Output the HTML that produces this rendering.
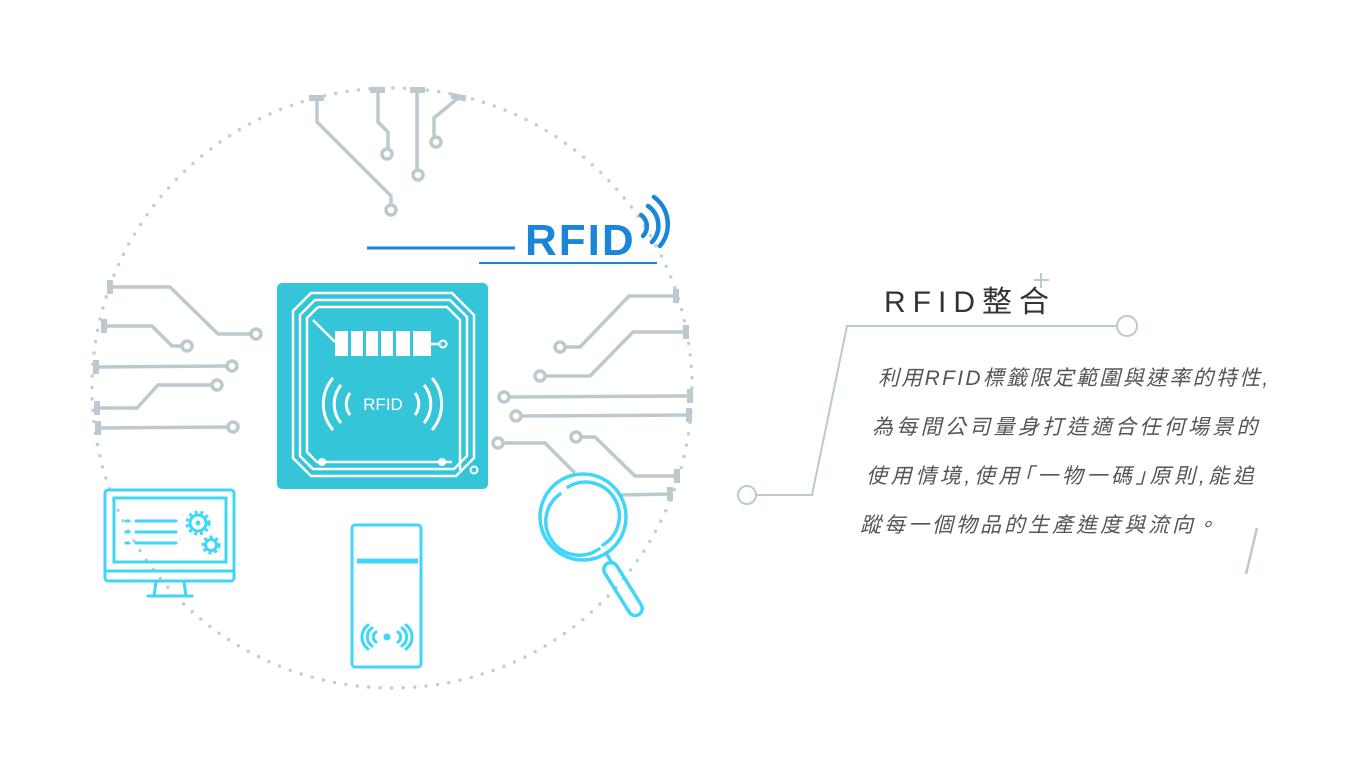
<!DOCTYPE html>
<html><head><meta charset="utf-8"><style>
html,body{margin:0;padding:0;background:#fff;width:1362px;height:758px;overflow:hidden}
.t{position:absolute;font-family:"Liberation Sans","Noto Sans CJK TC",sans-serif;}
</style></head><body>
<svg width="1362" height="758" style="position:absolute;left:0;top:0">
<circle cx="392" cy="388" r="300" fill="none" stroke="#c3cdd2" stroke-width="3.5" stroke-linecap="round" stroke-dasharray="0 11.5"/>
<g fill="none" stroke="#bccacf" stroke-width="3.5">
<path d="M317 98 V122 L391 196 V205"/><circle cx="391" cy="210" r="5"/>
<path d="M378 89 V122 L388 132 V149"/><circle cx="387" cy="154" r="5"/>
<path d="M417 90 V170"/><circle cx="418" cy="175" r="5"/>
<path d="M458 98 L434 118 V137"/><circle cx="436" cy="142" r="5"/>
<path d="M110 287 H170 L218 334 H250"/><circle cx="256" cy="334" r="5"/>
<path d="M104 326 H152 L172 346 H181"/><circle cx="187" cy="346" r="5"/>
<path d="M96 367 L227 366"/><circle cx="232" cy="366" r="5"/>
<path d="M97 408 H137 L158 385 H212"/><circle cx="217" cy="385" r="5"/>
<path d="M98 428 L228 427"/><circle cx="233" cy="427" r="5"/>
<path d="M676 296 H629 L580 347 H565"/><circle cx="560" cy="347" r="5"/>
<path d="M686 332 H633 L590 376 H545"/><circle cx="540" cy="376" r="5"/>
<path d="M690 396 L509 397"/><circle cx="504" cy="397" r="5"/>
<path d="M689 415 L521 416"/><circle cx="516" cy="416" r="5"/>
<path d="M503 443 H545 L575 473"/><circle cx="498" cy="443" r="5"/>
<path d="M581 437 H595 L635 476 H677"/><circle cx="576" cy="437" r="5"/>
<path d="M670 494 L620 495"/>
</g>
<g fill="#bccacf">
<rect x="309" y="95" width="15" height="6"/><rect x="370" y="87" width="15" height="6"/><rect x="410" y="87" width="15" height="6"/>
<rect x="451" y="94" width="15" height="6" transform="rotate(10 458 97)"/>
<rect x="107" y="280" width="6" height="14"/><rect x="101" y="319" width="6" height="14"/><rect x="93" y="360" width="6" height="14"/><rect x="94" y="401" width="6" height="14"/><rect x="95" y="421" width="6" height="14"/>
<rect x="673" y="289" width="6" height="14"/><rect x="683" y="325" width="6" height="14"/><rect x="687" y="389" width="6" height="14"/><rect x="686" y="408" width="6" height="14"/><rect x="674" y="469" width="6" height="14"/><rect x="667" y="487" width="6" height="14"/>
</g>
<line x1="367" y1="248" x2="515" y2="248" stroke="#1a86d8" stroke-width="3"/>
<line x1="479" y1="263" x2="657" y2="263" stroke="#1a86d8" stroke-width="2"/>
<text x="525" y="255" font-family="Liberation Sans,sans-serif" font-weight="bold" font-size="44" fill="#1a86d8" letter-spacing="2">RFID</text>
<g fill="none" stroke="#1a86d8" stroke-width="4.5" stroke-linecap="round">
<path d="M641 215 A14 14 0 0 1 643 236"/>
<path d="M648 206 A24 24 0 0 1 652 242"/>
<path d="M654 197 A34 34 0 0 1 660 246"/>
</g>
<rect x="277" y="283" width="211" height="206" rx="5" fill="#35c5d8"/>
<g fill="none" stroke="#fff" stroke-width="2.5">
<path d="M311 293 H452 L474 315 V458 L456 476 H311 L293 458 V311 Z"/>
<path d="M315 300 H450 L467 317 V456 L454 469 H313 L300 456 V315 Z"/>
<path d="M318 307 H447 L460 320 V470"/><path d="M318 307 L307 318 V452 L317 462 H452"/>
<path d="M313 320 L335 342"/><line x1="430" y1="344" x2="440" y2="344"/>
</g>
<circle cx="443" cy="344" r="3.5" fill="none" stroke="#fff" stroke-width="2"/>
<circle cx="474" cy="470" r="3.5" fill="none" stroke="#fff" stroke-width="2"/>
<circle cx="322" cy="462" r="4" fill="#fff"/><circle cx="442" cy="462" r="4" fill="#fff"/>
<g fill="#fff"><rect x="335" y="331" width="96" height="25"/></g>
<g fill="#35c5d8"><rect x="348" y="331" width="3" height="25"/><rect x="363" y="331" width="3" height="25"/><rect x="378" y="331" width="3" height="25"/><rect x="393" y="331" width="3" height="25"/><rect x="410" y="331" width="3" height="25"/></g>
<g fill="none" stroke="#fff" stroke-width="3">
<path d="M350 393 A18 18 0 0 0 350 415"/><path d="M341 385 A30 30 0 0 0 341 423"/><path d="M333 378 A40 40 0 0 0 333 430"/>
<path d="M415 393 A18 18 0 0 1 415 415"/><path d="M424 385 A30 30 0 0 1 424 423"/><path d="M432 378 A40 40 0 0 1 432 430"/>
</g>
<text x="383" y="410" text-anchor="middle" font-family="Liberation Sans,sans-serif" font-size="17" fill="#fff">RFID</text>
<g fill="none" stroke="#40d6f8" stroke-width="3" stroke-linecap="round">
<rect x="105" y="490" width="129" height="91" rx="3"/>
<rect x="114" y="498" width="112" height="64"/>
<line x1="105" y1="571" x2="234" y2="571"/>
<path d="M156 582 L154 596 M184 582 L186 596 M148 596 H192"/>
<path d="M126 521 H129 M136 521 H176 M126 532 H129 M136 532 H176 M126 543 H129 M136 543 H176"/>
<circle cx="198" cy="523" r="8"/><circle cx="211" cy="545" r="5.5"/>
</g>
<g fill="none" stroke="#40d6f8" stroke-width="3" stroke-dasharray="3 3"><circle cx="198" cy="523" r="11"/><circle cx="211" cy="545" r="8"/></g>
<circle cx="198" cy="523" r="2.5" fill="#40d6f8"/>
<g fill="none" stroke="#40d6f8" stroke-width="3" stroke-linecap="round">
<rect x="352" y="525" width="69" height="142" rx="3"/>
<line x1="357" y1="561" x2="418" y2="561" stroke-width="5" stroke-linecap="butt"/>
<path d="M376 632 A6 6 0 0 0 376 642 M372 628 A11 11 0 0 0 372 646 M368 625 A15 15 0 0 0 368 649"/>
<path d="M398 632 A6 6 0 0 1 398 642 M402 628 A11 11 0 0 1 402 646 M406 625 A15 15 0 0 1 406 649"/>
</g>
<circle cx="387" cy="637" r="3.5" fill="#40d6f8"/>
<g fill="none" stroke="#40d6f8" stroke-width="3.5" stroke-linecap="round">
<circle cx="583" cy="517" r="43" fill="#fff"/>
<path d="M568 487 A33 33 0 0 1 603 545"/><path d="M599 549 A33 33 0 0 1 560 494"/>
<line x1="606" y1="553" x2="612" y2="563"/>
<rect x="616" y="559" width="14" height="60" rx="7" transform="rotate(-32 623 589)"/>
</g>
<g fill="none" stroke="#b9cad0" stroke-width="2">
<path d="M755 495 H812 L847 326 H1117"/>
<circle cx="747" cy="495" r="9"/><circle cx="1127" cy="326" r="10"/>
<path d="M1041 273 V288 M1034 280 H1049"/>
<line x1="1257" y1="528" x2="1246" y2="574" stroke-width="2.5"/>
</g>
</svg>
<div class="t" style="left:884px;top:277px;font-size:30px;letter-spacing:7px;color:#333">RFID整合</div>
<div class="t" style="left:874px;top:354px;font-size:21px;color:#555;font-style:italic;line-height:49px;white-space:nowrap">
<div style="margin-left:4px;letter-spacing:2.3px">利用RFID標籤限定範圍與速率的特性,</div>
<div style="margin-left:-2px;letter-spacing:3.3px">為每間公司量身打造適合任何場景的</div>
<div style="margin-left:-8px;letter-spacing:3.6px">使用情境,使用｢一物一碼｣原則,能追</div>
<div style="margin-left:-14px;letter-spacing:3px">蹤每一個物品的生產進度與流向。</div>
</div>
</body></html>
